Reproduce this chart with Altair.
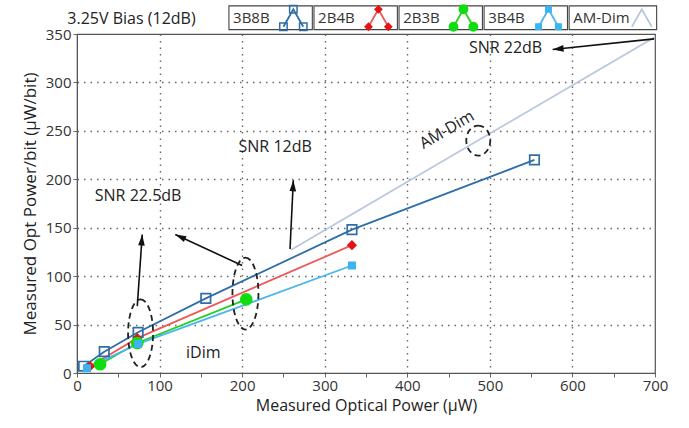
import math
import altair as alt
import pandas as pd

# ---------------- data ----------------
series_names = ["3B8B", "2B4B", "2B3B", "3B4B", "AM-Dim"]

x_3b8b = [8, 33, 74, 156, 333, 554]
y_3b8b = [7, 22, 42, 77, 148, 220]

x_2b4b = [16, 73, 333]
y_2b4b = [7, 36, 132]

x_2b3b = [28, 73, 205]
y_2b3b = [9, 31, 76]

x_3b4b = [12, 74, 333]
y_3b4b = [5, 30, 111]

x_amdim = [259, 700]
y_amdim = [127, 347]

x_ticks = [0, 50, 100, 150, 200, 250, 300, 350, 400, 450, 500, 550, 600, 650, 700]
y_ticks = [0, 50, 100, 150, 200, 250, 300, 350]

# annotation texts and anchors (data coordinates)
note_text = ["SNR  22dB", "SNR  12dB", "SNR  22.5dB", "iDim", "3.25V Bias (12dB)"]
note_x = [519, 240, 74, 153, 66]
note_y = [336, 233, 183, 21, 366]

amdim_label_x = [448]
amdim_label_y = [251]

# arrows: tail -> head
arrow_x1 = [699, 258, 73, 200]
arrow_y1 = [345, 128, 69, 111]
arrow_x2 = [576, 262, 79, 119]
arrow_y2 = [334, 199, 143, 143]

# dashed ellipses: centre
ell_x = [77, 204, 486]
ell_y = [41, 82, 240]

# legend strip above the plot (data units)
leg_left = [184, 287, 390, 493, 596]
leg_right = [285, 388, 491, 594, 702]
leg_glyph = [262, 365, 468, 571, 684]
leg_ylo, leg_yhi, leg_ymid = 354.5, 379, 366.5
glyph_dx, glyph_dy = 12, 9

# ---------------- build tables ----------------
rows = []
for name, xs, ys in [("3B8B", x_3b8b, y_3b8b), ("2B4B", x_2b4b, y_2b4b),
                     ("2B3B", x_2b3b, y_2b3b), ("3B4B", x_3b4b, y_3b4b),
                     ("AM-Dim", x_amdim, y_amdim)]:
    for i, (a, b) in enumerate(zip(xs, ys)):
        rows.append({"series": name, "x": a, "y": b, "i": i})
df = pd.DataFrame(rows)

W, H = 578, 339
kx, ky = W / 700.0, H / 350.0

arrows = pd.DataFrame({"x": arrow_x1, "y": arrow_y1, "x2": arrow_x2, "y2": arrow_y2})
arrows["ang"] = [
    (math.degrees(math.atan2((b - a) * kx, (d - c) * ky)) + 360) % 360
    for a, b, c, d in zip(arrow_x1, arrow_x2, arrow_y1, arrow_y2)
]

notes = pd.DataFrame({"t": note_text, "x": note_x, "y": note_y})
amlab = pd.DataFrame({"t": ["AM-Dim"], "x": amdim_label_x, "y": amdim_label_y})

leg_boxes = pd.DataFrame({"series": series_names, "x": leg_left, "x2": leg_right,
                          "y": [leg_ylo] * 5, "y2": [leg_yhi] * 5,
                          "tx": [l + 5 for l in leg_left], "ty": [leg_ymid] * 5})
glyph_rows = []
for name, gx in zip(series_names, leg_glyph):
    for i, (ox, oy) in enumerate([(-glyph_dx, -glyph_dy), (0, glyph_dy), (glyph_dx, -glyph_dy)]):
        glyph_rows.append({"series": name, "x": gx + ox, "y": leg_ymid + oy, "i": i})
glyph_df = pd.DataFrame(glyph_rows)

FONT = "Open Sans"

xscale = alt.Scale(domain=[0, 700], nice=False, zero=False)
yscale = alt.Scale(domain=[0, 350], nice=False, zero=False)

xaxis = alt.Axis(
    title="Measured Optical Power (μW)", values=x_ticks,
    labelExpr="datum.value % 100 == 0 ? datum.label : ''",
    grid=True,
    gridOpacity={"condition": {"test": "datum.value % 100 == 0 && datum.value > 0 && datum.value < 700", "value": 1}, "value": 0},
    gridDash=[1.5, 5], gridColor="#666", gridWidth=1.4,
    tickSize=4, tickColor="#666", domainColor="#555",
    labelFont=FONT, labelFontSize=15, labelColor="#333", labelPadding=1,
    titleFont=FONT, titleFontSize=16, titleFontWeight="normal", titleColor="#222",
    titlePadding=4, labelFlush=False,
)
yaxis = alt.Axis(
    title="Measured Opt Power/bit (μW/bit)", values=y_ticks,
    grid=True,
    gridOpacity={"condition": {"test": "datum.value > 0 && datum.value < 350", "value": 1}, "value": 0},
    gridDash=[1.5, 5], gridColor="#666", gridWidth=1.4,
    tickSize=4, tickColor="#666", domainColor="#555",
    labelFont=FONT, labelFontSize=15, labelColor="#333", labelPadding=2,
    titleFont=FONT, titleFontSize=17, titleFontWeight="normal", titleColor="#222",
    titlePadding=6,
)

line_colors = ["#2f6ea6", "#f05858", "#22d022", "#4cb6ee", "#b9c7df"]
mark_stroke = ["#2f6ea6", "#e41414", "#10dd10", "#3cb4f0", "#a8b4c8"]
mark_fill = ["transparent", "#e41414", "#10dd10", "#3cb4f0", "transparent"]
mark_shape = ["square", "diamond", "circle", "square", "triangle-up"]
series_size = {"3B8B": 90, "2B4B": 60, "2B3B": 120, "3B4B": 40}
legend_size = {"3B8B": 55, "2B4B": 45, "2B3B": 70, "3B4B": 30}

stroke_enc = alt.Stroke("series:N", scale=alt.Scale(domain=series_names, range=mark_stroke), legend=None)
fill_enc = alt.Fill("series:N", scale=alt.Scale(domain=series_names, range=mark_fill), legend=None)
shape_enc = alt.Shape("series:N", scale=alt.Scale(domain=series_names, range=mark_shape), legend=None)
color_enc = alt.Color("series:N", scale=alt.Scale(domain=series_names, range=line_colors), legend=None)

lines = alt.Chart(df).mark_line(strokeWidth=1.8).encode(
    x=alt.X("x:Q", scale=xscale, axis=xaxis),
    y=alt.Y("y:Q", scale=yscale, axis=yaxis),
    color=color_enc, detail="series:N", order="i:Q",
)

point_layers = []
for name, sz in series_size.items():
    point_layers.append(
        alt.Chart(df).transform_filter(alt.datum.series == name)
        .mark_point(strokeWidth=1.7, opacity=1, size=sz)
        .encode(x="x:Q", y="y:Q", stroke=stroke_enc, fill=fill_enc, shape=shape_enc)
    )

# manual legend
leg_rect = alt.Chart(leg_boxes).mark_rect(filled=False, color="#444", strokeWidth=1.1).encode(
    x="x:Q", x2="x2:Q", y="y:Q", y2="y2:Q"
)
leg_text = alt.Chart(leg_boxes).mark_text(font=FONT, fontSize=15, color="#333", align="left").encode(
    x="tx:Q", y="ty:Q", text="series:N"
)
leg_lines = alt.Chart(glyph_df).mark_line(strokeWidth=1.8).encode(
    x="x:Q", y="y:Q", color=color_enc, detail="series:N", order="i:Q"
)
leg_points = []
for name, sz in legend_size.items():
    leg_points.append(
        alt.Chart(glyph_df).transform_filter(alt.datum.series == name)
        .mark_point(strokeWidth=1.5, opacity=1, size=sz)
        .encode(x="x:Q", y="y:Q", stroke=stroke_enc, fill=fill_enc, shape=shape_enc)
    )

arrow_lines = alt.Chart(arrows).mark_rule(color="#111", strokeWidth=1.6).encode(
    x="x:Q", y="y:Q", x2="x2:Q", y2="y2:Q"
)
arrow_heads = alt.Chart(arrows).mark_point(
    shape="M0,0 L0.6,2 L-0.6,2 Z", size=121, filled=True, color="#111", opacity=1
).encode(x=alt.X("x2:Q"), y=alt.Y("y2:Q"), angle=alt.Angle("ang:Q", scale=None))

texts = alt.Chart(notes).mark_text(font=FONT, fontSize=16, color="#222").encode(
    x="x:Q", y="y:Q", text="t:N"
)
am_text = alt.Chart(amlab).mark_text(font=FONT, fontSize=16, color="#222", angle=330).encode(
    x="x:Q", y="y:Q", text="t:N"
)

def ellipse_path(a):
    k = 0.5523
    return (f"M0,-1 C{k*a:.3f},-1 {a:.3f},{-k:.3f} {a:.3f},0 "
            f"C{a:.3f},{k:.3f} {k*a:.3f},1 0,1 "
            f"C{-k*a:.3f},1 {-a:.3f},{k:.3f} {-a:.3f},0 "
            f"C{-a:.3f},{-k:.3f} {-k*a:.3f},-1 0,-1 Z")

ellipse_dims = [(25, 68), (26, 72), (24, 30)]
ell_layers = []
for (cx, cy), (w, h) in zip(zip(ell_x, ell_y), ellipse_dims):
    ell_layers.append(
        alt.Chart(pd.DataFrame({"x": [cx], "y": [cy]})).mark_point(
            shape=ellipse_path(w / h), size=h * h, filled=False, color="#222",
            strokeWidth=1.8, strokeDash=[6, 4], opacity=1
        ).encode(x="x:Q", y="y:Q")
    )

chart = alt.layer(
    lines, *point_layers, arrow_lines, arrow_heads, texts, am_text, *ell_layers,
    leg_rect, leg_text, leg_lines, *leg_points,
).properties(
    width=W, height=H,
    autosize=alt.AutoSizeParams(type="none"),
    padding={"left": 77, "top": 34, "right": 34, "bottom": 55},
    background="white",
).configure_view(stroke="#555", strokeWidth=1.2)

chart.save("out.html", embed_options={"renderer": "svg", "actions": False})
